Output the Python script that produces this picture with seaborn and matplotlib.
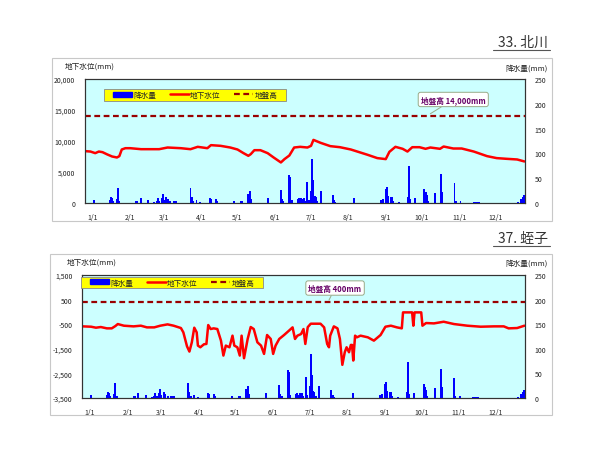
import matplotlib
matplotlib.use("Agg")
import matplotlib.pyplot as plt
import seaborn as sns
import pandas as pd
from matplotlib.patches import Patch, Rectangle
from matplotlib.lines import Line2D
from matplotlib.ticker import FuncFormatter

# ---------------- data ----------------
month_labels = ["1/1", "2/1", "3/1", "4/1", "5/1", "6/1", "7/1", "8/1", "9/1", "10/1", "11/1", "12/1"]
month_start_day = [0, 31, 59, 90, 120, 151, 181, 212, 243, 273, 304, 334]

# daily rainfall (day of year index, mm) - same station for both charts
rain_day = [7, 20, 21, 22, 23, 26, 27, 28, 42, 43, 46, 52, 57, 59, 60, 61, 63, 64, 65, 67, 68, 70,
            73, 74, 75, 87, 88, 89, 92, 95, 103, 104, 108, 109, 123, 129, 130, 135, 136, 137, 151,
            162, 163, 164, 169, 170, 171, 176, 177, 178, 179, 180, 181, 182, 184, 185, 187, 188,
            189, 190, 191, 192, 195, 205, 206, 207, 223, 245, 246, 247, 249, 250, 251, 253, 254,
            255, 260, 267, 268, 269, 273, 281, 282, 283, 284, 290, 295, 296, 306, 307, 311, 322,
            323, 324, 325, 326, 359, 361, 362, 363, 364]
rain_mm = [6, 7, 12, 10, 5, 8, 31, 5, 5, 4, 11, 7, 3, 5, 11, 4, 10, 19, 6, 13, 8, 4,
           5, 4, 4, 30, 12, 4, 7, 2, 11, 8, 8, 4, 5, 5, 5, 18, 24, 9, 10,
           27, 8, 5, 57, 52, 6, 8, 10, 6, 10, 9, 10, 5, 42, 6, 24, 89,
           47, 15, 12, 5, 25, 17, 6, 3, 10, 6, 7, 8, 29, 32, 15, 12, 12,
           5, 2, 12, 74, 8, 11, 29, 22, 17, 5, 20, 58, 22, 40, 5, 4, 3,
           3, 2, 3, 2, 2, 9, 8, 12, 17]

# 33. 北川 groundwater level (mm)
kita_day = [0, 4, 8, 11, 14, 18, 22, 26, 28, 30, 33, 37, 46, 54, 61, 68, 79, 87, 93, 101, 104,
            112, 120, 126, 131, 135, 137, 140, 145, 151, 156, 162, 165, 169, 173, 178, 184, 187,
            189, 195, 203, 211, 220, 234, 242, 249, 252, 257, 263, 267, 271, 277, 282, 286, 294,
            297, 305, 312, 322, 333, 341, 349, 358, 364]
kita_lvl = [8360, 8300, 8040, 8300, 8200, 7830, 7500, 7340, 7560, 8630, 8840, 8840, 8680, 8680,
            8680, 8950, 8840, 8680, 9060, 8840, 9330, 9220, 8950, 8630, 8040, 7610, 7880, 8520,
            8520, 8040, 7340, 6540, 7080, 7660, 8950, 9060, 8950, 9220, 10180, 9700, 9170, 9000,
            8630, 7770, 7240, 7080, 8250, 9060, 8740, 8300, 9000, 9000, 8740, 8950, 8740, 9110,
            8790, 8790, 8300, 7560, 7240, 7130, 7020, 6700]
kita_ground = 14000

# 37. 蛭子 groundwater level (mm)
ebi_day = [0, 7, 11, 15, 20, 24, 27, 29, 34, 42, 48, 53, 59, 64, 70, 75, 81, 83, 86, 88, 90, 92,
           94, 95, 97, 100, 102, 103.5, 105.5, 108, 111, 114, 116, 118, 121, 123.5, 125, 127.5,
           129.5, 131, 133, 136, 138.5, 141, 144, 147, 149.5, 152, 155, 157, 159, 162, 166, 170,
           173, 175, 177, 180, 182, 183.5, 185.5, 188, 196, 199, 201.5, 203, 204, 207, 210, 212,
           214, 216, 217.5, 219.5, 221, 222, 223, 224.5, 226, 229, 235, 240, 245.5, 249.5, 254,
           259, 263, 264, 271.5, 272.5, 273.5, 279, 280, 283, 289.5, 297.5, 306, 317, 328, 339,
           347, 351, 358, 364]
ebi_lvl = [-588, -602, -642, -615, -669, -669, -575, -494, -561, -588, -561, -629, -629, -561,
           -507, -561, -656, -831, -1397, -1613, -1235, -642, -831, -1370, -1438, -1316, -1303,
           -534, -696, -669, -696, -1168, -1775, -1370, -1438, -966, -1370, -1438, -1775, -966,
           -1883, -1100, -615, -696, -1235, -1370, -1707, -939, -1100, -1707, -1370, -1100, -939,
           -764, -629, -1100, -966, -900, -696, -1303, -620, -480, -480, -629, -1303, -1438, -966,
           -588, -669, -1100, -2152, -1640, -1438, -1640, -1343, -1343, -1977, -966, -1033, -966,
           -1033, -1168, -939, -602, -561, -629, -669, -20, -20, -561, -20, -20, -561, -453, -467,
           -400, -494, -561, -602, -588, -588, -669, -656, -561]
ebi_ground = 400

legend_labels = ["降水量", "地下水位", "地盤高"]

# ---------------- style ----------------
sns.set_theme(style="white")
plt.rcParams["font.family"] = ["Noto Sans CJK JP", "DejaVu Sans"]

W, H = 600, 452
fig = plt.figure(figsize=(W / 100, H / 100), dpi=100)
fig.patch.set_facecolor("white")

CYAN = "#ccffff"
BLUE = "#0000ff"
RED = "#ff0000"
DRED = "#990000"
TXT = "#222222"
PURPLE = "#660066"


def fx(px):
    return px / W


def fy(py):
    return 1 - py / H


def frame(x0, y0, x1, y1):
    fig.add_artist(Rectangle((fx(x0), fy(y1)), (x1 - x0) / W, (y1 - y0) / H,
                             transform=fig.transFigure, fill=False,
                             edgecolor="#c8c8c8", lw=0.8))


def title(text, xr, yc, yline, xl):
    fig.text(fx(xr), fy(yc), text, ha="right", va="center", fontsize=10, color="#333333")
    fig.add_artist(Line2D([fx(xl), fx(xr + 2)], [fy(yline), fy(yline)],
                          transform=fig.transFigure, color="#555555", lw=0.8))


def panel(rect, day, lvl, ground, ylo, yhi, ystep, leg_box, note_text, note_xy, note_pt):
    ax = fig.add_axes(rect)
    ax.set_facecolor(CYAN)
    ax2 = ax.twinx()

    rain_df = pd.DataFrame({"day": rain_day, "rain": rain_mm})
    sns.barplot(data=rain_df, x="day", y="rain", ax=ax2, native_scale=True,
                color=BLUE, saturation=1, width=1.6, errorbar=None, linewidth=0)

    lvl_df = pd.DataFrame({"day": day, "level": lvl})
    sns.lineplot(data=lvl_df, x="day", y="level", ax=ax, color=RED, lw=1.8)
    ax.axhline(ground, color=DRED, lw=1.6, ls=(0, (2.6, 1.6)), zorder=5)

    for a in (ax, ax2):
        a.set_xlim(-0.5, 364.5)
        a.set_xlabel("")
        a.set_ylabel("")
        for s in a.spines.values():
            s.set_color("#333333")
            s.set_linewidth(0.8)
        a.tick_params(length=0, labelsize=5, colors=TXT, pad=7)
    ax.set_ylim(ylo, yhi)
    ax.set_yticks(list(range(ylo, yhi + 1, ystep)))
    ax.yaxis.set_major_formatter(FuncFormatter(lambda v, p: f"{int(v):,}"))
    ax2.set_ylim(0, 250)
    ax2.set_yticks([0, 50, 100, 150, 200, 250])
    ax.set_xticks([d + 6 for d in month_start_day])
    ax.set_xticklabels(month_labels)
    ax2.set_xticks([d + 6 for d in month_start_day])
    ax2.set_xticklabels(month_labels)
    ax.grid(False)
    ax2.grid(False)

    # yellow legend box
    bx, by, bw, bh = leg_box
    ax2.add_patch(Rectangle((bx, by), bw, bh, transform=ax2.transAxes,
                            facecolor="#ffff00", edgecolor="#888888", lw=0.6,
                            zorder=8, clip_on=False))
    handles = [Patch(facecolor=BLUE, edgecolor=BLUE),
               Line2D([], [], color=RED, lw=1.8),
               Line2D([], [], color=DRED, lw=1.6, ls=(0, (2.6, 1.6)))]
    leg = ax2.legend(handles, legend_labels, ncol=3, loc="center",
                     bbox_to_anchor=(bx + bw / 2, by + bh / 2),
                     fontsize=5.5, frameon=False, handlelength=2.5,
                     handleheight=0.6, borderpad=0, handletextpad=0.15,
                     columnspacing=1.8)
    leg.set_zorder(9)

    ax.annotate(note_text, xy=note_pt, xytext=note_xy, ha="center", va="center",
                fontsize=5.5, color=PURPLE, fontweight="bold", zorder=10,
                bbox=dict(boxstyle="round,pad=0.35,rounding_size=0.3", fc="white",
                          ec="#99aa88", lw=0.7),
                arrowprops=dict(arrowstyle="-", color="#99aa88", lw=0.7,
                                shrinkA=0, shrinkB=0))
    return ax, ax2


# ---------------- frames & titles ----------------
frame(52, 59, 552, 222)
frame(50, 255, 552, 416)
title("33. 北川", 548, 43, 51, 493)
title("37. 蛭子", 548, 239, 247, 493)

# ---------------- top panel ----------------
panel([fx(85), fy(204), 440 / W, 124 / H], kita_day, kita_lvl, kita_ground,
      0, 20000, 5000, (0.043, 0.823, 0.414, 0.096),
      "地盤高 14,000mm", (305, 16700), (286, 14400))
fig.text(fx(65), fy(67), "地下水位(mm)", ha="left", va="center", fontsize=5.5, color=TXT)
fig.text(fx(548), fy(69), "降水量(mm)", ha="right", va="center", fontsize=5.5, color=TXT)

# ---------------- bottom panel ----------------
panel([fx(82), fy(399), 443 / W, 123 / H], ebi_day, ebi_lvl, ebi_ground,
      -3500, 1500, 1000, (-0.002, 0.894, 0.411, 0.09),
      "地盤高 400mm", (208, 970), (203, 480))
fig.text(fx(67), fy(263), "地下水位(mm)", ha="left", va="center", fontsize=5.5, color=TXT)
fig.text(fx(548), fy(264), "降水量(mm)", ha="right", va="center", fontsize=5.5, color=TXT)

fig.savefig("out.png", dpi=100, facecolor="white")
